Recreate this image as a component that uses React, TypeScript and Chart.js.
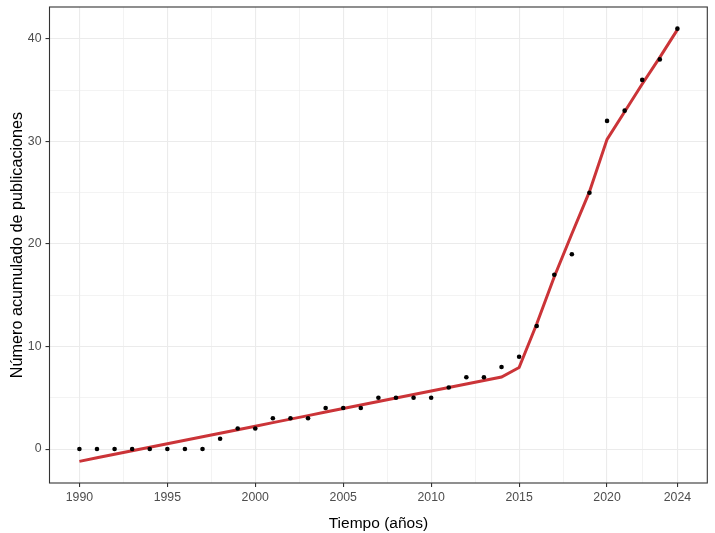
import React, { useEffect, useRef } from "react";
import { Chart, registerables } from "chart.js";

Chart.register(...registerables);

const years = [1990, 1991, 1992, 1993, 1994, 1995, 1996, 1997, 1998, 1999, 2000, 2001, 2002, 2003, 2004, 2005, 2006, 2007, 2008, 2009, 2010, 2011, 2012, 2013, 2014, 2015, 2016, 2017, 2018, 2019, 2020, 2021, 2022, 2023, 2024];
const publications = [0, 0, 0, 0, 0, 0, 0, 0, 1, 2, 2, 3, 3, 3, 4, 4, 4, 5, 5, 5, 5, 6, 7, 7, 8, 9, 12, 17, 19, 25, 32, 33, 36, 38, 41];
const fitted = [-1.2, -0.85, -0.51, -0.17, 0.17, 0.52, 0.86, 1.2, 1.55, 1.89, 2.23, 2.58, 2.92, 3.26, 3.61, 3.95, 4.29, 4.64, 4.98, 5.32, 5.67, 6.01, 6.35, 6.69, 7.03, 7.95, 12.2, 16.8, 21.0, 25.1, 30.2, 32.9, 35.6, 38.2, 40.9];

const xMajorTicks = [1990, 1995, 2000, 2005, 2010, 2015, 2020, 2024];
const xMinorTicks = [1992.5, 1997.5, 2002.5, 2007.5, 2012.5, 2017.5, 2022];
const yMajorTicks = [0, 10, 20, 30, 40];
const yMinorTicks = [5, 15, 25, 35];

const FONT = "'Liberation Sans', Arial, sans-serif";

export default function App() {
  const ref = useRef<HTMLCanvasElement | null>(null);

  useEffect(() => {
    document.body.style.margin = "0";
    const canvas = ref.current;
    if (!canvas) return;

    const panelBorder = {
      id: "panelBorder",
      afterDatasetsDraw(chart: any) {
        const { ctx, chartArea } = chart;
        ctx.save();
        ctx.strokeStyle = "#333333";
        ctx.lineWidth = 1.1;
        ctx.strokeRect(chartArea.left, chartArea.top, chartArea.right - chartArea.left, chartArea.bottom - chartArea.top);
        ctx.restore();
      },
    };

    const isXMajor = (v: number) => xMajorTicks.includes(v);
    const isYMajor = (v: number) => yMajorTicks.includes(v);

    const chart = new Chart(canvas, {
      type: "scatter",
      data: {
        datasets: [
          {
            label: "Publicaciones",
            data: years.map((y, i) => ({ x: y, y: publications[i] })),
            showLine: false,
            pointRadius: 2.3,
            pointBackgroundColor: "#000000",
            pointBorderWidth: 0,
            order: 0,
          },
          {
            label: "Ajuste",
            data: years.map((y, i) => ({ x: y, y: fitted[i] })),
            showLine: true,
            borderColor: "#CB3438",
            borderWidth: 3,
            pointRadius: 0,
            tension: 0,
            order: 1,
          },
        ],
      },
      options: {
        responsive: false,
        animation: false,
        layout: { padding: { left: 0, right: 7.7, top: 7, bottom: 0 } },
        plugins: { legend: { display: false }, tooltip: { enabled: false } },
        scales: {
          x: {
            type: "linear",
            min: 1988.3,
            max: 2025.7,
            afterBuildTicks: (scale: any) => {
              scale.ticks = [...xMajorTicks, ...xMinorTicks].sort((a, b) => a - b).map((v) => ({ value: v }));
            },
            afterFit: (scale: any) => {
              scale.height = 50;
              scale.paddingLeft = 0;
              scale.paddingRight = 0;
            },
            ticks: {
              autoSkip: false,
              maxRotation: 0,
              padding: 3,
              color: "#4D4D4D",
              font: { family: FONT, size: 12.3 },
              callback: (v: any) => (isXMajor(Number(v)) ? String(v) : ""),
            },
            grid: {
              color: "#EBEBEB",
              lineWidth: (c: any) => (isXMajor(c.tick?.value) ? 1.1 : 0.6),
              tickColor: (c: any) => (isXMajor(c.tick?.value) ? "#333333" : "rgba(0,0,0,0)"),
              tickLength: 4,
              tickWidth: 1.1,
            },
            border: { display: false },
            title: {
              display: true,
              text: "Tiempo (años)",
              color: "#000000",
              font: { family: FONT, size: 15.5 },
              padding: { top: 11, bottom: 0 },
            },
          },
          y: {
            type: "linear",
            min: -3.31,
            max: 43.11,
            afterBuildTicks: (scale: any) => {
              scale.ticks = [...yMajorTicks, ...yMinorTicks].sort((a, b) => a - b).map((v) => ({ value: v }));
            },
            afterFit: (scale: any) => {
              scale.width = 49.5;
              scale.paddingTop = 0;
              scale.paddingBottom = 0;
            },
            ticks: {
              autoSkip: false,
              padding: 4,
              color: "#4D4D4D",
              font: { family: FONT, size: 12.3 },
              callback: (v: any) => (isYMajor(Number(v)) ? String(v) : ""),
            },
            grid: {
              color: "#EBEBEB",
              lineWidth: (c: any) => (isYMajor(c.tick?.value) ? 1.1 : 0.6),
              tickColor: (c: any) => (isYMajor(c.tick?.value) ? "#333333" : "rgba(0,0,0,0)"),
              tickLength: 4,
              tickWidth: 1.1,
            },
            border: { display: false },
            title: {
              display: true,
              text: "Número acumulado de publicaciones",
              color: "#000000",
              font: { family: FONT, size: 16.2 },
              padding: { top: 7.5, bottom: 0 },
            },
          },
        },
      },
      plugins: [panelBorder],
    });

    return () => chart.destroy();
  }, []);

  return (
    <div style={{ width: 715, height: 533, background: "#ffffff" }}>
      <canvas ref={ref} width={715} height={533} style={{ display: "block", width: 715, height: 533 }} />
    </div>
  );
}
